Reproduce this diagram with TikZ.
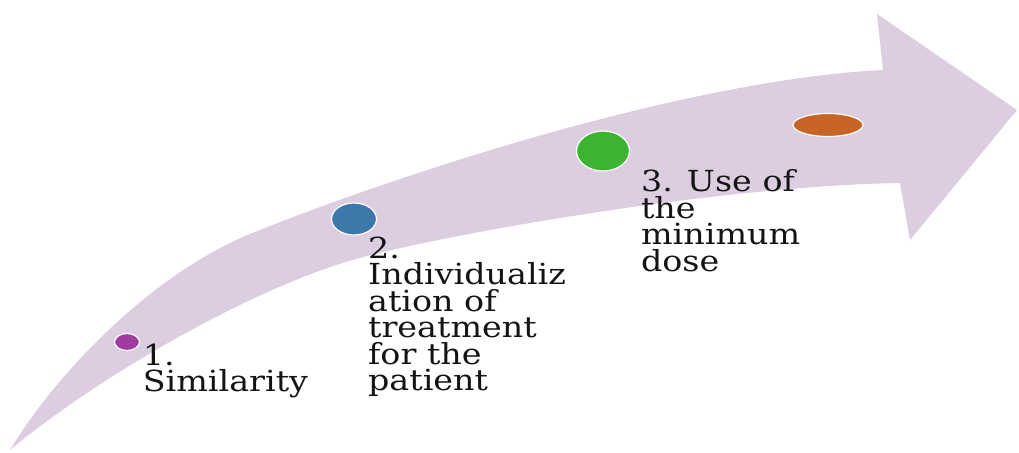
\documentclass[tikz,border=0pt]{standalone}
\usepackage{fontspec}
\setmainfont{DejaVu Serif}[FakeStretch=1.15]
\usepackage{xcolor}
\usepackage{tikz}
\usetikzlibrary{positioning,shapes.geometric}

\definecolor{bandlilac}{HTML}{DCCDE1}
\definecolor{dotpurple}{HTML}{A03CA0}
\definecolor{dotblue}{HTML}{3C78AA}
\definecolor{dotgreen}{HTML}{3CB432}
\definecolor{dotorange}{HTML}{C86428}
\definecolor{inkgrey}{HTML}{141414}

\begin{document}
\begin{tikzpicture}[
    x=1pt, y=-1pt,
    dot/.style={ellipse, draw=white, line width=1.2pt, inner sep=0pt},
    steplabel/.style={inner sep=0pt, align=left, text=inkgrey, font=\fontsize{29}{26.5}\selectfont}
]
\useasboundingbox (0,0) rectangle (1019,452);

% Fleche courbe
\fill[bandlilac] (10,450) .. controls (55,375) and (150,275) .. (250,234)
    .. controls (380,181) and (680,80) .. (883,70)
    -- (877,14) -- (1017,110) -- (910,240) -- (900,183)
    .. controls (720,186) and (460,232) .. (367,256)
    .. controls (260,283) and (100,375) .. (10,450) -- cycle;

% Points
\node[dot, fill=dotpurple, minimum width=25pt, minimum height=17pt] (similarity) at (127,342) {};
\node[dot, fill=dotblue, minimum width=45pt, minimum height=32pt] (individual) at (354,219) {};
\node[dot, fill=dotgreen, minimum width=53pt, minimum height=40pt] (mindose) at (603,151) {};
\node[dot, fill=dotorange, minimum width=70pt, minimum height=23pt] (next) at (828,125) {};

% Etapes
\node[steplabel, below right=-4.7pt and 6.4pt of similarity] (similaritytext) {1.\\Similarity};
\node[steplabel, below right=5.8pt and -2.4pt of individual] (individualtext) {2.\\Individualiz\\ation of\\treatment\\for the\\patient};
\node[steplabel, below right=4.1pt and 18.7pt of mindose] (mindosetext) {3. Use of\\the\\minimum\\dose};

\end{tikzpicture}
\end{document}
